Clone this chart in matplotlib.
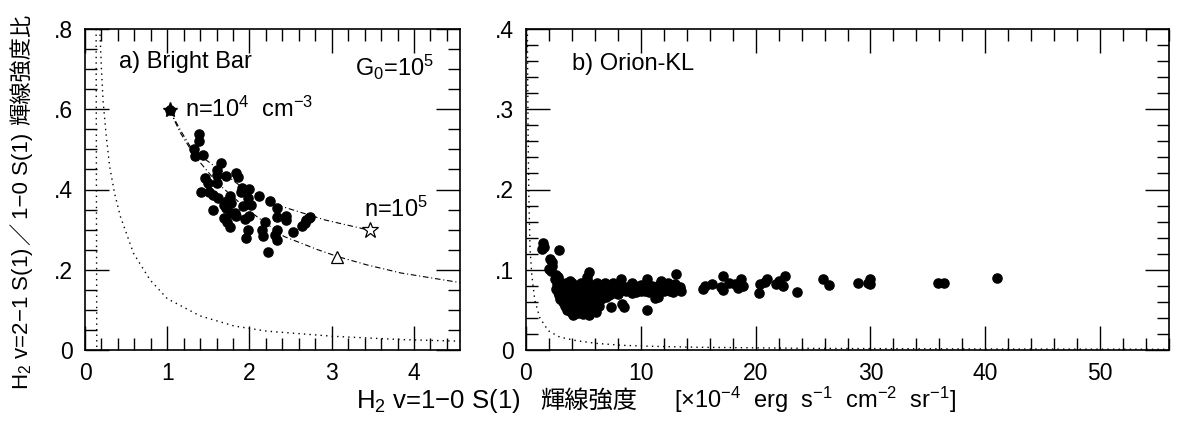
import matplotlib
matplotlib.use('Agg')
import matplotlib.pyplot as plt
from matplotlib.ticker import MultipleLocator

plt.rcParams['font.family'] = ['Liberation Sans', 'Noto Sans CJK JP', 'DejaVu Sans']
plt.rcParams['mathtext.fontset'] = 'custom'
plt.rcParams['mathtext.rm'] = 'Liberation Sans'
plt.rcParams['mathtext.it'] = 'Liberation Sans:italic'
plt.rcParams['mathtext.bf'] = 'Liberation Sans:bold'

# ---------------- data: a) Bright Bar ----------------
bb_x = [1.03, 1.39, 1.39, 1.33, 1.34, 1.44, 1.65, 1.60, 1.60, 1.71, 1.84, 1.86, 1.46, 1.49, 1.60,
        1.91, 2.00, 1.90, 1.41, 1.51, 1.56, 1.62, 1.76, 1.73, 2.11, 1.98, 2.25, 1.56, 1.69, 1.72,
        1.78, 1.92, 2.02, 2.33, 1.77, 1.84, 1.99, 1.95, 1.83, 1.69, 2.33, 2.45, 2.45, 2.19, 1.73,
        1.76, 1.98, 2.15, 2.33, 2.53, 2.64, 2.67, 2.69, 2.72, 2.74, 1.96, 2.17, 2.31, 2.34, 2.23]
bb_y = [0.599, 0.539, 0.520, 0.501, 0.484, 0.486, 0.467, 0.449, 0.437, 0.434, 0.442, 0.432, 0.428, 0.417, 0.417,
        0.403, 0.401, 0.393, 0.393, 0.393, 0.387, 0.378, 0.383, 0.372, 0.383, 0.380, 0.372, 0.349, 0.362, 0.353,
        0.366, 0.359, 0.362, 0.353, 0.341, 0.333, 0.334, 0.326, 0.341, 0.328, 0.331, 0.334, 0.324, 0.320, 0.320,
        0.306, 0.298, 0.299, 0.299, 0.295, 0.308, 0.316, 0.323, 0.328, 0.331, 0.279, 0.283, 0.287, 0.274, 0.245]

# model curves
upper_x = [1.03, 1.16, 1.28, 1.45, 1.61, 1.90, 2.39, 2.92, 3.45]
upper_y = [0.597, 0.548, 0.507, 0.477, 0.453, 0.407, 0.358, 0.324, 0.299]
lower_x = [1.03, 1.16, 1.34, 1.61, 1.98, 2.42, 2.83, 3.07, 3.43, 3.84, 4.56]
lower_y = [0.597, 0.541, 0.482, 0.416, 0.349, 0.283, 0.250, 0.233, 0.212, 0.192, 0.168]
dotA_x = [0.18, 0.20, 0.22, 0.26, 0.30, 0.36, 0.43, 0.59, 0.79, 1.0, 1.40, 1.81, 2.21, 3.03, 3.84, 4.56]
dotA_y = [0.80, 0.70, 0.62, 0.53, 0.457, 0.39, 0.333, 0.241, 0.175, 0.128, 0.085, 0.060, 0.047, 0.034, 0.026, 0.022]
vline_x = [0.135, 0.143]
vline_y = [0.80, 0.0]
star_x, star_y = [1.03], [0.599]
ostar_x, ostar_y = [3.47], [0.299]
tri_x, tri_y = [3.07], [0.233]

# ---------------- data: b) Orion-KL ----------------
kl_x = [1.5, 1.4, 1.6, 2.9, 2.1, 2.3, 2.3, 2.0, 2.2, 2.6, 2.5, 2.8, 3.0, 2.7, 2.9, 3.1, 2.9, 3.3, 3.5, 3.8,
        4.0, 4.2, 3.4, 3.2, 3.4, 3.6, 3.7, 3.9, 4.1, 4.3, 4.4, 4.6, 4.7, 4.8, 4.5, 4.9, 5.0, 5.2, 5.1, 5.3,
        5.5, 5.4, 5.6, 5.5, 5.7, 5.9, 5.8, 6.0, 6.2, 6.1, 6.4, 6.5, 6.6, 6.8, 6.9, 7.0, 7.2, 7.4, 7.5, 7.8,
        8.0, 8.2, 8.4, 8.5, 8.3, 8.7, 9.0, 9.2, 9.5, 9.8, 10.0, 10.3, 10.5, 10.5, 10.7, 11.0, 11.2, 11.5, 11.4, 11.8,
        12.1, 12.4, 12.5, 12.8, 13.1, 13.2, 13.5, 13.4,
        2.6, 2.8, 3.0, 3.2, 3.4, 3.6, 3.6, 3.8, 3.8, 4.0, 4.0, 4.2, 4.2, 4.4, 4.4, 4.6, 4.6, 4.8, 4.8, 5.0,
        5.0, 5.2, 5.2, 5.4, 5.4, 5.6, 5.6, 5.8, 5.8, 6.0, 6.0, 6.2, 6.2, 6.4, 6.4, 6.6, 6.8, 7.0, 7.2, 7.4,
        7.6, 7.6, 8.0, 8.4, 8.8, 9.2, 9.6, 10.0, 10.4, 10.9, 11.6, 12.0, 12.8, 13.0,
        15.4, 15.6, 16.2, 17.2, 17.0, 17.2, 17.7, 18.2, 18.7, 18.9, 18.5, 20.3, 20.4, 20.8, 21.0, 21.8, 22.6, 22.4,
        22.0, 23.6, 25.9, 26.4, 28.9, 30.0, 30.0, 29.8, 35.9, 36.4, 41.0]
kl_y = [0.133, 0.126, 0.128, 0.125, 0.114, 0.110, 0.105, 0.101, 0.098, 0.094, 0.088, 0.091, 0.085, 0.082, 0.078,
        0.072, 0.068, 0.080, 0.083, 0.086, 0.084, 0.080, 0.066, 0.060, 0.055, 0.050, 0.058, 0.047, 0.043, 0.052,
        0.062, 0.070, 0.077, 0.083, 0.046, 0.050, 0.058, 0.066, 0.074, 0.091, 0.097, 0.085, 0.079, 0.044, 0.052,
        0.060, 0.068, 0.075, 0.083, 0.047, 0.055, 0.063, 0.071, 0.078, 0.084, 0.066, 0.074, 0.054, 0.080, 0.072,
        0.077, 0.082, 0.057, 0.053, 0.089, 0.074, 0.079, 0.071, 0.076, 0.080, 0.074, 0.078, 0.050, 0.088, 0.072,
        0.080, 0.065, 0.066, 0.076, 0.086, 0.080, 0.084, 0.074, 0.078, 0.095, 0.076, 0.073, 0.079,
        0.076, 0.072, 0.064, 0.076, 0.071, 0.076, 0.064, 0.070, 0.060, 0.066, 0.054, 0.072, 0.058, 0.076, 0.050,
        0.056, 0.064, 0.060, 0.068, 0.080, 0.045, 0.054, 0.060, 0.070, 0.050, 0.064, 0.058, 0.074, 0.048, 0.056,
        0.066, 0.070, 0.061, 0.076, 0.068, 0.080, 0.070, 0.076, 0.068, 0.077, 0.071, 0.083, 0.070, 0.075, 0.078,
        0.083, 0.072, 0.081, 0.074, 0.076, 0.081, 0.074, 0.072, 0.082,
        0.076, 0.080, 0.082, 0.092, 0.078, 0.075, 0.084, 0.082, 0.088, 0.080, 0.077, 0.071, 0.082, 0.085, 0.088,
        0.082, 0.092, 0.080, 0.086, 0.072, 0.089, 0.081, 0.083, 0.089, 0.082, 0.084, 0.083, 0.083, 0.090]
dotB_x = [0.12, 0.18, 0.25, 0.35, 0.50, 0.63, 0.78, 1.21, 1.94, 2.95, 4.4, 6.1, 8.4, 11.0, 15.0, 25.0, 40.0, 56.0]
dotB_y = [0.40, 0.27, 0.19, 0.126, 0.095, 0.078, 0.061, 0.040, 0.024, 0.016, 0.0116, 0.0083, 0.0058, 0.0046,
          0.0034, 0.0020, 0.0013, 0.0009]

# tick labels
yt1 = [0, 0.2, 0.4, 0.6, 0.8]
yl1 = ['0', '.2', '.4', '.6', '.8']
xt1 = [0, 1, 2, 3, 4]
yt2 = [0, 0.1, 0.2, 0.3, 0.4]
yl2 = ['0', '.1', '.2', '.3', '.4']
xt2 = [0, 10, 20, 30, 40, 50]

W, H = 1179, 425
fig = plt.figure(figsize=(W / 100, H / 100), dpi=100)

def rect(l, t, r, b):
    return [l / W, 1 - b / H, (r - l) / W, (b - t) / H]

ax1 = fig.add_axes(rect(85, 29, 460, 350))
ax2 = fig.add_axes(rect(526, 29, 1169, 350))

TICK_FS = 16.5
for ax in (ax1, ax2):
    for s in ax.spines.values():
        s.set_linewidth(1.2)
    ax.tick_params(which='both', direction='in', top=True, right=True, width=1.0, colors='black')
    ax.tick_params(which='major', length=17, labelsize=TICK_FS)
    ax.tick_params(which='minor', length=8.5)
    ax.tick_params(axis='x', which='major', pad=9)
    ax.tick_params(axis='y', which='major', pad=8.5)

dash_dot = (0, (5, 2.5, 1, 2.5))
dotted = (0, (1, 3))
ms = 6.6

# --- panel a ---
ax1.plot(vline_x, vline_y, color='black', lw=1.0, ls=dotted)
ax1.plot(dotA_x, dotA_y, color='black', lw=1.0, ls=dotted)
ax1.plot(upper_x, upper_y, color='black', lw=0.8, ls=dash_dot)
ax1.plot(lower_x, lower_y, color='black', lw=0.8, ls=dash_dot)
ax1.plot(bb_x, bb_y, 'o', color='black', ms=ms, mec='black')
ax1.plot(star_x, star_y, '*', color='black', ms=11)
ax1.plot(ostar_x, ostar_y, '*', mfc='white', mec='black', ms=12, mew=0.9)
ax1.plot(tri_x, tri_y, '^', mfc='white', mec='black', ms=9, mew=0.9)
ax1.set_xlim(0, 4.56)
ax1.set_ylim(0, 0.8)
ax1.set_xticks(xt1)
ax1.set_xticklabels([str(v) for v in xt1])
ax1.set_yticks(yt1)
ax1.set_yticklabels(yl1)
ax1.xaxis.set_minor_locator(MultipleLocator(0.2))
ax1.yaxis.set_minor_locator(MultipleLocator(0.05))

ANN = 17
ax1.text(0.41, 0.704, 'a) Bright Bar', fontsize=ANN, va='baseline', ha='left')
ax1.text(4.24, 0.682, 'G$_0$=10$^5$', fontsize=ANN, va='baseline', ha='right')
ax1.text(1.21, 0.582, 'n=10$^4$  cm$^{-3}$', fontsize=ANN, va='baseline', ha='left')
ax1.text(3.39, 0.331, 'n=10$^5$', fontsize=ANN, va='baseline', ha='left')

# --- panel b ---
ax2.plot(dotB_x, dotB_y, color='black', lw=1.0, ls=dotted)
ax2.plot(kl_x, kl_y, 'o', color='black', ms=ms, mec='black')
ax2.set_xlim(0, 56)
ax2.set_ylim(0, 0.4)
ax2.set_xticks(xt2)
ax2.set_xticklabels([str(v) for v in xt2])
ax2.set_yticks(yt2)
ax2.set_yticklabels(yl2)
ax2.xaxis.set_minor_locator(MultipleLocator(2))
ax2.yaxis.set_minor_locator(MultipleLocator(0.02))
ax2.text(4.0, 0.349, 'b) Orion-KL', fontsize=ANN, va='baseline', ha='left')

# --- axis labels (pieces so that CJK glyphs get a CJK font) ---
CJK = 'Noto Sans CJK JP'
LAT = 'Liberation Sans'
renderer = fig.canvas.get_renderer()

base_y = 1 - 408 / H
xlabel_parts = [('H$_2$ v=1−0 S(1)', LAT, 18.5, 20),
                ('輝線強度', CJK, 17.5, 36),
                ('[×10$^{-4}$  erg  s$^{-1}$  cm$^{-2}$  sr$^{-1}$]', LAT, 17, 0)]
xpos = 356.0
for txt, fam, fs, gap in xlabel_parts:
    t = fig.text(xpos / W, base_y, txt, fontsize=fs, family=fam, ha='left', va='baseline')
    bb = t.get_window_extent(renderer)
    xpos = bb.x1 + gap

ylabel_parts = [('H$_2$ v=2−1 S(1)', LAT, 3),
                ('／', CJK, 3),
                ('1−0 S(1)', LAT, 8),
                ('輝線強度比', CJK, 0)]
ypos = 390.0   # pixels from top where the label starts (bottom end)
for txt, fam, gap in ylabel_parts:
    t = fig.text(28 / W, 1 - ypos / H, txt, fontsize=16, family=fam, rotation=90,
                 rotation_mode='anchor', ha='left', va='baseline')
    bb = t.get_window_extent(renderer)
    ypos = H - bb.y1 - gap

fig.savefig('out.png', dpi=100, facecolor='white')
